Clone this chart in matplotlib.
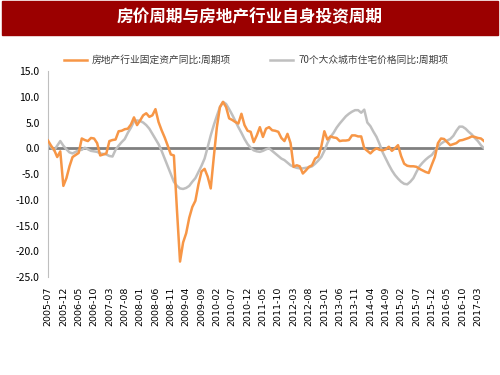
import matplotlib.pyplot as plt
import pandas as pd

plt.rcParams['font.family'] = ['Noto Sans CJK SC', 'DejaVu Sans']

months = pd.period_range("2005-07", periods=143, freq="M").strftime("%Y-%m").tolist()

invest = [1.5, 0.5, -0.3, -1.7, -0.6, -7.3, -5.8, -3.5, -1.7, -1.3,
          -0.9, 1.9, 1.6, 1.4, 2.0, 1.9, 1.0, -1.4, -1.2, -1.0,
          1.4, 1.6, 1.7, 3.3, 3.4, 3.7, 3.8, 4.6, 6.0, 4.5,
          5.4, 6.4, 6.8, 6.1, 6.4, 7.6, 5.1, 3.5, 2.1, 0.5,
          -1.2, -1.4, -12.0, -22.0, -18.3, -16.5, -13.5, -11.4, -10.2, -7.0,
          -4.5, -4.0, -5.5, -7.8, -1.7, 4.1, 8.0, 9.0, 8.0, 5.8,
          5.5, 5.1, 4.8, 6.7, 4.5, 3.4, 3.2, 1.2, 2.5, 4.1,
          2.2, 3.8, 4.1, 3.5, 3.4, 3.2, 2.0, 1.4, 2.8, 1.0,
          -3.6, -3.3, -3.5, -4.9, -4.3, -3.6, -3.3, -2.0, -1.6, 0.3,
          3.3, 1.7, 2.3, 2.1, 2.0, 1.4, 1.5, 1.5, 1.6, 2.5,
          2.5, 2.3, 2.3, 0.0, -0.5, -1.0, -0.4, 0.0, -0.3, -0.4,
          -0.2, 0.3, -0.5, 0.0, 0.6, -1.5, -3.0, -3.4, -3.5, -3.5,
          -3.6, -4.0, -4.3, -4.6, -4.8, -3.2, -1.7, 1.0, 1.9, 1.8,
          1.2, 0.6, 0.8, 1.0, 1.5, 1.6, 1.8, 2.0, 2.3, 2.2,
          2.0, 1.9, 1.4]

price = [0.9, 0.2, -0.4, 0.5, 1.4, 0.5, -0.2, -0.8, -1.0, -0.7,
         -0.4, -0.3, 0.1, -0.2, -0.5, -0.6, -0.7, -1.0, -1.1, -1.2,
         -1.5, -1.6, -0.3, 0.5, 1.2, 1.8, 3.0, 4.0, 5.2, 5.4,
         5.3, 5.0, 4.5, 3.8, 2.8, 1.8, 0.8, -0.5, -2.0, -3.5,
         -5.0, -6.5, -7.3, -7.8, -7.9, -7.7, -7.3, -6.5, -5.8, -4.6,
         -3.4, -2.0, 0.2, 2.5, 4.5, 6.3, 8.0, 9.0, 8.6, 7.6,
         6.5, 5.3, 4.1, 3.0, 1.8, 0.8, 0.1, -0.4, -0.6, -0.7,
         -0.5, -0.2, 0.0, -0.5, -1.0, -1.5, -2.0, -2.3, -2.8, -3.3,
         -3.6, -3.8, -3.9, -3.9, -3.8, -3.7, -3.5, -3.0, -2.4, -1.7,
         -0.5, 1.0, 2.2, 3.0, 4.0, 4.8, 5.5, 6.2, 6.7, 7.1,
         7.4, 7.4, 6.9, 7.5, 5.0, 4.3, 3.2, 2.2, 0.8, -0.8,
         -2.0, -3.2, -4.3, -5.2, -5.9, -6.5, -6.9, -7.0, -6.5, -5.8,
         -4.6, -3.5, -2.8, -2.2, -1.7, -1.3, -0.5, 0.3, 0.9, 1.3,
         1.5, 1.8, 2.4, 3.4, 4.2, 4.2, 3.8, 3.2, 2.7, 2.0,
         1.4, 0.6, 0.0]

fig = plt.figure(figsize=(5, 3.75), dpi=100)

# title bar
fig.patches.append(plt.Rectangle((0.004, 1 - 35 / 375), 0.992, 34 / 375,
                                 transform=fig.transFigure, color="#9B0000", zorder=0))
fig.text(0.5, 1 - 17 / 375, "房价周期与房地产行业自身投资周期", color="white",
         fontsize=12, fontweight="bold", ha="center", va="center")

ax = fig.add_axes([0.096, 0.2613, 0.872, 0.5493])
x = list(range(len(months)))
ax.axhline(0, color="#808080", lw=2, zorder=1)
l1, = ax.plot(x, invest, color="#F79646", lw=1.8, zorder=3)
l2, = ax.plot(x, price, color="#BFBFBF", lw=1.8, zorder=2)

ax.set_xlim(0, 142)
ax.set_ylim(-25, 15)
ax.set_yticks(range(-25, 16, 5))
ax.set_yticklabels([f"{v:.1f}" for v in range(-25, 16, 5)], fontsize=7.5)
ax.set_xticks(x[::5])
ax.set_xticklabels(months[::5], rotation=90, fontsize=6.8, family="DejaVu Sans")
ax.tick_params(length=0, pad=6)
ax.tick_params(axis="x", pad=7)
for s in ["top", "right", "bottom"]:
    ax.spines[s].set_visible(False)
ax.spines["left"].set_color("#BFBFBF")

fig.legend([l1, l2], ["房地产行业固定资产同比:周期项", "70个大众城市住宅价格同比:周期项"],
           loc="center", bbox_to_anchor=(0.512, 1 - 60 / 375), ncol=2, frameon=False,
           fontsize=7, handlelength=2.4, handletextpad=0.5, columnspacing=4.0,
           labelcolor="#404040")

fig.savefig("out.png")
